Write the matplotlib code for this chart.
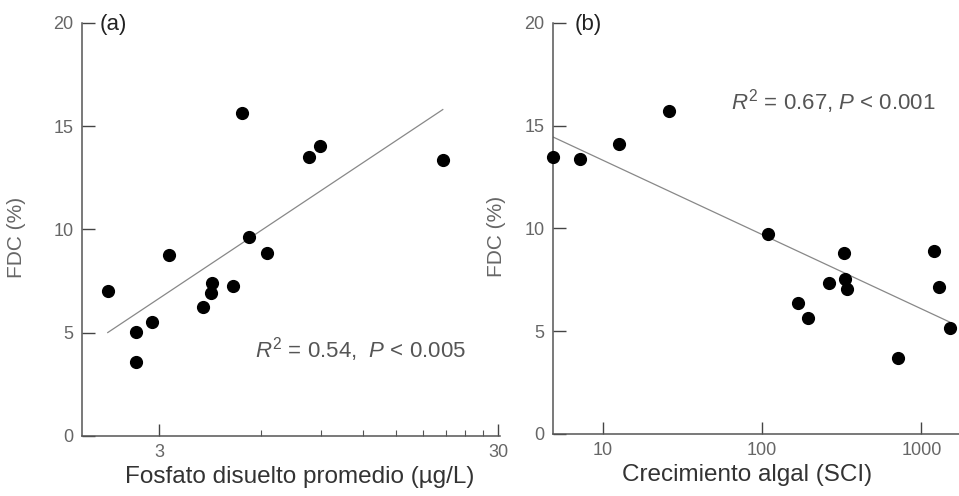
import matplotlib
matplotlib.use("Agg")
import matplotlib.pyplot as plt
import numpy as np
from matplotlib.ticker import FixedLocator, NullFormatter, NullLocator

plt.rcParams['font.family'] = ['Liberation Sans', 'DejaVu Sans']
plt.rcParams['mathtext.fontset'] = 'custom'
plt.rcParams['mathtext.rm'] = 'Liberation Sans'
plt.rcParams['mathtext.it'] = 'Liberation Sans:italic'

# panel (a): fosfato disuelto vs FDC
fosfato = [2.12, 2.56, 2.56, 2.86, 3.21, 4.04, 4.28, 4.30, 4.96, 5.27, 5.53, 6.24, 8.31, 8.95, 20.6]
fdc_a = [7.02, 5.04, 3.58, 5.52, 8.77, 6.25, 6.92, 7.40, 7.26, 15.64, 9.63, 8.86, 13.5, 14.04, 13.37]
fit_a = (1.44, 10.93)   # intercept, slope vs log10(x)
xticks_a = [3, 30]
minor_a = [6, 9, 12, 15, 18, 21, 24, 27]

# panel (b): crecimiento algal vs FDC
sci = [4.86, 7.18, 12.6, 25.9, 108, 169, 193, 261, 324, 329, 339, 717, 1205, 1279, 1500]
fdc_b = [13.48, 13.38, 14.1, 15.7, 9.73, 6.37, 5.64, 7.35, 8.81, 7.54, 7.06, 3.7, 8.9, 7.15, 5.16]
fit_b = (16.93, -3.615)
xticks_b = [10, 100, 1000]

yticks = [0, 5, 10, 15, 20]

fig = plt.figure(figsize=(9.59, 4.96), dpi=100)
ax1 = fig.add_axes([0.0855, 0.121, 0.436, 0.833])
ax2 = fig.add_axes([0.5766, 0.125, 0.4234, 0.829])


def style(ax):
    ax.set_xscale('log')
    ax.spines['top'].set_visible(False)
    ax.spines['right'].set_visible(False)
    for s in ('left', 'bottom'):
        ax.spines[s].set_color('#555555')
        ax.spines[s].set_linewidth(1.1)
    ax.set_ylim(0, 20)
    ax.set_yticks(yticks)
    ax.tick_params(which='major', direction='in', length=9, width=1,
                   color='#444444', labelcolor='#666666', labelsize=13, pad=6)
    ax.tick_params(which='minor', direction='in', length=4, width=0.8, color='#555555')
    ax.set_ylabel('FDC (%)', fontsize=15, color='#666666')


def draw(ax, x, y, fit):
    ax.scatter(x, y, s=72, color='black', zorder=3, clip_on=False)
    xs = np.linspace(np.log10(min(x)), np.log10(max(x)), 50)
    ax.plot(10 ** xs, fit[0] + fit[1] * xs, color='#888888', lw=0.9)


style(ax1)
draw(ax1, fosfato, fdc_a, fit_a)
ax1.set_xlim(1.78, 30.4)
ax1.xaxis.set_major_locator(FixedLocator(xticks_a))
ax1.set_xticklabels([str(t) for t in xticks_a])
ax1.xaxis.set_minor_locator(FixedLocator(minor_a))
ax1.xaxis.set_minor_formatter(NullFormatter())
ax1.set_xlabel('Fosfato disuelto promedio (µg/L)', fontsize=17.5, color='#333333')
ax1.xaxis.set_label_coords(0.52, -0.072)
ax1.yaxis.set_label_coords(-0.134, 0.48)
ax1.text(0.043, 0.995, '(a)', transform=ax1.transAxes, fontsize=16,
         ha='left', va='center', color='#222222')
ax1.text(0.665, 0.208, r'$R^2$ = 0.54,  $P$ < 0.005', transform=ax1.transAxes,
         fontsize=16, ha='center', va='center', color='#555555')

style(ax2)
draw(ax2, sci, fdc_b, fit_b)
ax2.set_xlim(4.86, 1720)
ax2.xaxis.set_major_locator(FixedLocator(xticks_b))
ax2.set_xticklabels([str(t) for t in xticks_b])
ax2.xaxis.set_minor_locator(NullLocator())
ax2.set_xlabel('Crecimiento algal (SCI)', fontsize=17.5, color='#333333')
ax2.xaxis.set_label_coords(0.478, -0.072)
ax2.yaxis.set_label_coords(-0.116, 0.48)
ax2.text(0.054, 0.995, '(b)', transform=ax2.transAxes, fontsize=16,
         ha='left', va='center', color='#222222')
ax2.text(0.69, 0.808, r'$R^2$ = 0.67, $P$ < 0.001', transform=ax2.transAxes,
         fontsize=16, ha='center', va='center', color='#555555')

fig.savefig('out.png', dpi=100)
